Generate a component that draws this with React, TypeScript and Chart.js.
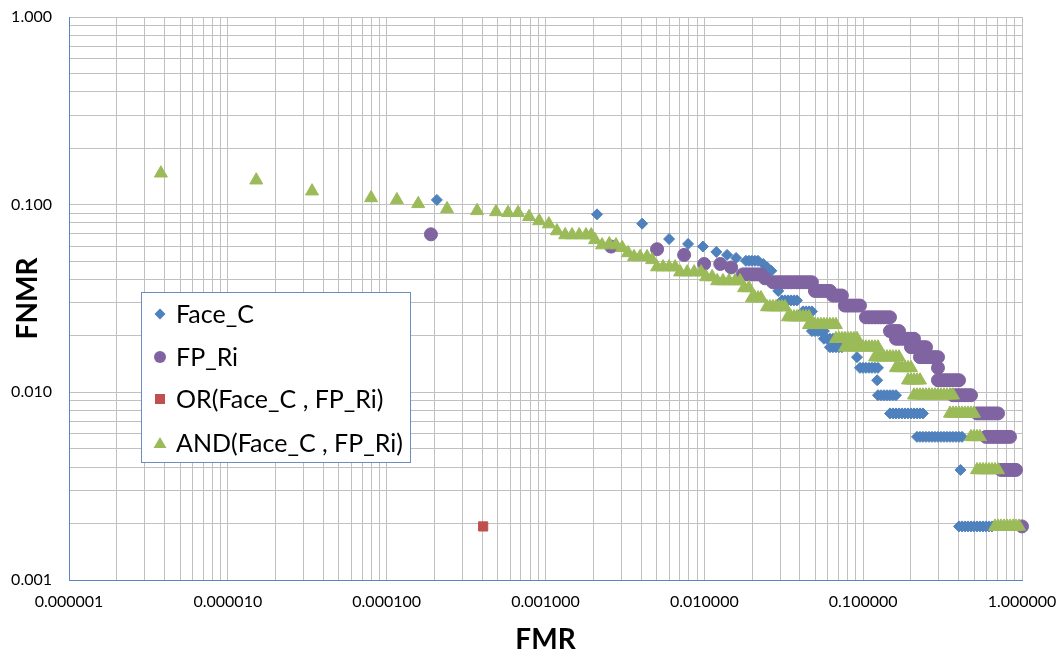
import React, { useEffect, useRef } from 'react';
import { Chart, registerables } from 'chart.js';

Chart.register(...registerables);

const FONT = 'Lato, "Open Sans", "DejaVu Sans", sans-serif';

// ---- axes ----
const xDecades = [1e-6, 1e-5, 1e-4, 1e-3, 1e-2, 1e-1, 1];
const xTickLabels = ['0.000001', '0.000010', '0.000100', '0.001000', '0.010000', '0.100000', '1.000000'];
const yDecades = [0.001, 0.01, 0.1, 1];
const yTickLabels = ['0.001', '0.010', '0.100', '1.000'];
const minorSteps = [1, 2, 3, 4, 5, 6, 7, 8, 9];
const xTitle = 'FMR';
const yTitle = 'FNMR';

// ---- series ----
const seriesNames = ['Face_C', 'FP_Ri', 'OR(Face_C , FP_Ri)', 'AND(Face_C , FP_Ri)'];
const seriesColors = ['#4F81BD', '#8064A2', '#C0504D', '#9BBB59'];

const faceC: number[][] = [
  [2.07e-4, 0.106], [2.11e-3, 0.0888], [4.06e-3, 0.0792], [6.0e-3, 0.0656], [7.9e-3, 0.0618],
  [9.8e-3, 0.0598], [1.19e-2, 0.056], [1.39e-2, 0.054], [1.585e-2, 0.052],
  [1.828e-2, 0.0502], [1.91e-2, 0.0502], [1.994e-2, 0.0502], [2.083e-2, 0.0502], [2.176e-2, 0.0502],
  [2.35e-2, 0.0483], [2.49e-2, 0.0463], [2.64e-2, 0.0444], [2.92e-2, 0.0347],
  [3.081e-2, 0.0309], [3.218e-2, 0.0309], [3.36e-2, 0.0309], [3.51e-2, 0.0309], [3.666e-2, 0.0309], [3.828e-2, 0.0309],
  [4.176e-2, 0.027], [4.362e-2, 0.027], [4.556e-2, 0.027], [4.758e-2, 0.027],
  [4.758e-2, 0.0212], [4.969e-2, 0.0212], [5.19e-2, 0.0212], [5.421e-2, 0.0212], [5.662e-2, 0.0212],
  [5.662e-2, 0.0193], [5.913e-2, 0.0193], [6.176e-2, 0.0193], [6.45e-2, 0.0193], [6.737e-2, 0.0193],
  [6.176e-2, 0.0174], [6.45e-2, 0.0174], [6.737e-2, 0.0174], [7.036e-2, 0.0174], [7.349e-2, 0.0174],
  [9.141e-2, 0.0154],
  [9.546e-2, 0.0135], [9.97e-2, 0.0135], [0.1041, 0.0135], [0.1088, 0.0135], [0.1136, 0.0135],
  [0.1187, 0.0135], [0.1239, 0.0135],
  [0.1225, 0.0116],
  [0.1239, 0.00965], [0.1294, 0.00965], [0.1352, 0.00965], [0.1412, 0.00965], [0.1475, 0.00965],
  [0.154, 0.00965], [0.1609, 0.00965],
  [0.1475, 0.00772], [0.154, 0.00772], [0.1609, 0.00772], [0.168, 0.00772], [0.1755, 0.00772],
  [0.1833, 0.00772], [0.1914, 0.00772], [0.2, 0.00772], [0.2089, 0.00772], [0.2182, 0.00772],
  [0.2279, 0.00772], [0.2379, 0.00772],
  [0.2182, 0.00579], [0.2279, 0.00579], [0.2379, 0.00579], [0.2485, 0.00579], [0.2597, 0.00579],
  [0.2712, 0.00579], [0.2833, 0.00579], [0.2958, 0.00579], [0.309, 0.00579], [0.3227, 0.00579],
  [0.3371, 0.00579], [0.3521, 0.00579], [0.3677, 0.00579], [0.3841, 0.00579], [0.4012, 0.00579],
  [0.419, 0.00579],
  [0.41, 0.00386],
  [0.4012, 0.00193], [0.419, 0.00193], [0.4376, 0.00193], [0.457, 0.00193], [0.4773, 0.00193],
  [0.4985, 0.00193], [0.5207, 0.00193], [0.5438, 0.00193], [0.568, 0.00193], [0.5932, 0.00193],
  [0.6196, 0.00193], [0.6471, 0.00193],
];

const fpRi: number[][] = [
  [1.9e-4, 0.0695], [2.59e-3, 0.0598], [5.04e-3, 0.0579], [7.46e-3, 0.054], [9.97e-3, 0.0483],
  [1.26e-2, 0.0483], [1.476e-2, 0.0463],
  [1.75e-2, 0.0425], [1.828e-2, 0.0425], [1.91e-2, 0.0425], [1.994e-2, 0.0425], [2.083e-2, 0.0425],
  [2.176e-2, 0.0425], [2.272e-2, 0.0425],
  [2.41e-2, 0.0405], [2.704e-2, 0.0386],
  [2.824e-2, 0.0386], [2.95e-2, 0.0386], [3.081e-2, 0.0386], [3.218e-2, 0.0386], [3.36e-2, 0.0386],
  [3.51e-2, 0.0386], [3.666e-2, 0.0386], [3.828e-2, 0.0386], [3.999e-2, 0.0386], [4.176e-2, 0.0386],
  [4.362e-2, 0.0386], [4.556e-2, 0.0386], [4.758e-2, 0.0386],
  [4.969e-2, 0.0347], [5.19e-2, 0.0347], [5.421e-2, 0.0347], [5.662e-2, 0.0347], [5.913e-2, 0.0347],
  [6.176e-2, 0.0347],
  [6.45e-2, 0.0328], [6.737e-2, 0.0328], [7.036e-2, 0.0328], [7.349e-2, 0.0328],
  [7.675e-2, 0.029], [8.016e-2, 0.029], [8.372e-2, 0.029], [8.745e-2, 0.029], [9.141e-2, 0.029],
  [9.546e-2, 0.029],
  [0.1041, 0.0251], [0.1088, 0.0251], [0.1136, 0.0251], [0.1187, 0.0251], [0.1239, 0.0251],
  [0.1294, 0.0251], [0.1352, 0.0251], [0.1412, 0.0251], [0.1475, 0.0251],
  [0.1475, 0.0212], [0.154, 0.0212], [0.1609, 0.0212], [0.168, 0.0212],
  [0.1609, 0.0193], [0.168, 0.0193], [0.1755, 0.0193], [0.1833, 0.0193], [0.1914, 0.0193],
  [0.2, 0.0193], [0.2089, 0.0193],
  [0.2, 0.0174], [0.2089, 0.0174], [0.2182, 0.0174], [0.2279, 0.0174], [0.2379, 0.0174], [0.2485, 0.0174],
  [0.2279, 0.0154], [0.2379, 0.0154], [0.2485, 0.0154], [0.2597, 0.0154], [0.2712, 0.0154],
  [0.2833, 0.0154], [0.2958, 0.0154],
  [0.2958, 0.0135],
  [0.2958, 0.0116], [0.309, 0.0116], [0.3227, 0.0116], [0.3371, 0.0116], [0.3521, 0.0116],
  [0.3677, 0.0116], [0.3841, 0.0116], [0.4012, 0.0116],
  [0.3677, 0.00965], [0.3841, 0.00965], [0.4012, 0.00965], [0.419, 0.00965], [0.4376, 0.00965],
  [0.457, 0.00965], [0.4773, 0.00965],
  [0.5207, 0.00772], [0.5438, 0.00772], [0.568, 0.00772], [0.5932, 0.00772], [0.6196, 0.00772],
  [0.6471, 0.00772], [0.6761, 0.00772], [0.7062, 0.00772],
  [0.5932, 0.00579], [0.6196, 0.00579], [0.6471, 0.00579], [0.6761, 0.00579], [0.7062, 0.00579],
  [0.7375, 0.00579], [0.7702, 0.00579], [0.8043, 0.00579], [0.8404, 0.00579],
  [0.7375, 0.00386], [0.7702, 0.00386], [0.8043, 0.00386], [0.8404, 0.00386], [0.8777, 0.00386],
  [0.9167, 0.00386],
  [1.0, 0.00193],
];

const orFused: number[][] = [
  [4.05e-4, 0.00193],
];

const andFused: number[][] = [
  [3.79e-6, 0.147], [1.51e-5, 0.135], [3.39e-5, 0.118], [7.98e-5, 0.1086], [1.16e-4, 0.106],
  [1.58e-4, 0.101], [2.4e-4, 0.0949], [3.71e-4, 0.0927], [4.88e-4, 0.0915], [5.81e-4, 0.0905],
  [6.72e-4, 0.0905], [7.88e-4, 0.0862], [9.12e-4, 0.0819], [1.05e-3, 0.0788], [1.18e-3, 0.0724],
  [1.33e-3, 0.0689], [1.47e-3, 0.0689], [1.63e-3, 0.0689], [1.8e-3, 0.0689], [1.94e-3, 0.0689],
  [2.05e-3, 0.0649], [2.27e-3, 0.0609], [2.52e-3, 0.0617], [2.78e-3, 0.0609], [3.04e-3, 0.0589],
  [3.31e-3, 0.0553], [3.61e-3, 0.0527], [3.94e-3, 0.0527], [4.36e-3, 0.0527], [4.69e-3, 0.0508],
  [5.04e-3, 0.0465], [5.5e-3, 0.0465], [6.0e-3, 0.0465], [6.55e-3, 0.0465],
  [7.04e-3, 0.0437], [7.8e-3, 0.0437], [8.63e-3, 0.0437], [9.55e-3, 0.0437],
  [1.026e-2, 0.0412], [1.12e-2, 0.0412],
  [1.205e-2, 0.0392], [1.31e-2, 0.0392], [1.43e-2, 0.0392], [1.56e-2, 0.0392], [1.68e-2, 0.0392],
  [1.78e-2, 0.036], [1.91e-2, 0.036],
  [1.994e-2, 0.0318], [2.083e-2, 0.0318], [2.176e-2, 0.0318], [2.272e-2, 0.0318],
  [2.479e-2, 0.0285], [2.589e-2, 0.0285], [2.704e-2, 0.0285], [2.824e-2, 0.0285], [2.95e-2, 0.0285],
  [3.081e-2, 0.0285], [3.218e-2, 0.0285],
  [3.36e-2, 0.0252], [3.51e-2, 0.0252], [3.666e-2, 0.0252], [3.828e-2, 0.0252], [3.999e-2, 0.0252],
  [4.176e-2, 0.0252], [4.362e-2, 0.0252], [4.556e-2, 0.0252],
  [4.556e-2, 0.0229], [4.758e-2, 0.0229], [4.969e-2, 0.0229], [5.19e-2, 0.0229], [5.421e-2, 0.0229],
  [5.662e-2, 0.0229], [5.913e-2, 0.0229], [6.176e-2, 0.0229], [6.45e-2, 0.0229], [6.737e-2, 0.0229],
  [6.737e-2, 0.0193], [7.036e-2, 0.0193], [7.349e-2, 0.0193], [7.675e-2, 0.0193], [8.016e-2, 0.0193],
  [8.372e-2, 0.0193], [8.745e-2, 0.0193], [9.141e-2, 0.0193],
  [7.675e-2, 0.0174], [8.016e-2, 0.0174], [8.372e-2, 0.0174], [8.745e-2, 0.0174], [9.141e-2, 0.0174],
  [9.546e-2, 0.0174], [9.97e-2, 0.0174], [0.1041, 0.0174], [0.1088, 0.0174], [0.1136, 0.0174],
  [0.1187, 0.0174], [0.1239, 0.0174],
  [0.1187, 0.0154], [0.1239, 0.0154], [0.1294, 0.0154], [0.1352, 0.0154], [0.1412, 0.0154],
  [0.1475, 0.0154], [0.154, 0.0154], [0.1609, 0.0154], [0.168, 0.0154],
  [0.1609, 0.0135], [0.168, 0.0135], [0.1755, 0.0135], [0.1833, 0.0135], [0.1914, 0.0135], [0.2, 0.0135],
  [0.1914, 0.0116], [0.2, 0.0116], [0.2089, 0.0116], [0.2182, 0.0116], [0.2279, 0.0116],
  [0.2089, 0.00965], [0.2182, 0.00965], [0.2279, 0.00965], [0.2379, 0.00965], [0.2485, 0.00965],
  [0.2597, 0.00965], [0.2712, 0.00965], [0.2833, 0.00965], [0.2958, 0.00965], [0.309, 0.00965],
  [0.3227, 0.00965], [0.3371, 0.00965], [0.3521, 0.00965], [0.3677, 0.00965],
  [0.3521, 0.00772], [0.3677, 0.00772], [0.3841, 0.00772], [0.4012, 0.00772], [0.419, 0.00772],
  [0.4376, 0.00772], [0.457, 0.00772], [0.4773, 0.00772], [0.4985, 0.00772],
  [0.4773, 0.00579], [0.4985, 0.00579], [0.5207, 0.00579], [0.5438, 0.00579],
  [0.5207, 0.00386], [0.5438, 0.00386], [0.568, 0.00386], [0.5932, 0.00386], [0.6196, 0.00386],
  [0.6471, 0.00386], [0.6761, 0.00386], [0.7062, 0.00386],
  [0.6761, 0.00193], [0.7062, 0.00193], [0.7375, 0.00193], [0.7702, 0.00193], [0.8043, 0.00193],
  [0.8404, 0.00193], [0.8777, 0.00193], [0.9167, 0.00193], [0.9574, 0.00193],
];

const seriesData = [faceC, fpRi, orFused, andFused];
const seriesStyles: any[] = ['rectRot', 'circle', 'rect', 'triangle'];
const seriesRadius = [5.5, 6.5, 6.5, 7.5];
const seriesOrder = [3, 2, 1, 0];

function logTicks(decades: number[]) {
  const out: { value: number }[] = [];
  for (let i = 0; i < decades.length - 1; i++) {
    for (const m of minorSteps) out.push({ value: m * decades[i] });
  }
  out.push({ value: decades[decades.length - 1] });
  return out;
}

function decadeLabel(value: number, decades: number[], labels: string[]) {
  const i = decades.findIndex((d) => Math.abs(Math.log10(d) - Math.log10(value)) < 1e-6);
  return i >= 0 ? labels[i] : '';
}

function drawMarker(ctx: CanvasRenderingContext2D, style: string, x: number, y: number, color: string) {
  ctx.fillStyle = color;
  ctx.beginPath();
  if (style === 'rectRot') {
    const r = 5.5;
    ctx.moveTo(x - r, y); ctx.lineTo(x, y - r); ctx.lineTo(x + r, y); ctx.lineTo(x, y + r);
  } else if (style === 'circle') {
    ctx.arc(x, y, 6, 0, Math.PI * 2);
  } else if (style === 'rect') {
    ctx.rect(x - 5, y - 5, 10, 10);
  } else {
    ctx.moveTo(x, y - 6); ctx.lineTo(x + 6.5, y + 5); ctx.lineTo(x - 6.5, y + 5);
  }
  ctx.closePath();
  ctx.fill();
}

const boxLegend = {
  id: 'boxLegend',
  afterDraw(chart: any) {
    const ctx: CanvasRenderingContext2D = chart.ctx;
    ctx.save();
    const bx = 141, by = 292, bw = 269, bh = 170;
    ctx.fillStyle = '#ffffff';
    ctx.fillRect(bx, by, bw, bh);
    ctx.strokeStyle = '#6F8CBF';
    ctx.lineWidth = 1;
    ctx.strokeRect(bx + 0.5, by + 0.5, bw, bh);
    const rows = [314, 357, 399, 443];
    ctx.font = `25px ${FONT}`;
    ctx.textBaseline = 'middle';
    ctx.textAlign = 'left';
    seriesNames.forEach((name, i) => {
      drawMarker(ctx, seriesStyles[i], 160, rows[i], seriesColors[i]);
      ctx.fillStyle = '#000000';
      ctx.fillText(name, 176, rows[i] + 1);
    });
    ctx.restore();
  },
};

const whiteBg = {
  id: 'whiteBg',
  beforeDraw(chart: any) {
    const ctx = chart.ctx;
    ctx.save();
    ctx.fillStyle = '#ffffff';
    ctx.fillRect(0, 0, chart.width, chart.height);
    ctx.restore();
  },
};

export default function App() {
  const canvasRef = useRef<HTMLCanvasElement | null>(null);

  useEffect(() => {
    document.body.style.margin = '0';
    const canvas = canvasRef.current;
    if (!canvas) return;
    const chart = new Chart(canvas, {
      type: 'scatter',
      data: {
        datasets: seriesNames.map((name, i) => ({
          label: name,
          data: seriesData[i].map(([x, y]) => ({ x, y })),
          pointStyle: seriesStyles[i],
          pointRadius: seriesRadius[i],
          pointHoverRadius: seriesRadius[i],
          backgroundColor: seriesColors[i],
          borderColor: seriesColors[i],
          borderWidth: 1,
          showLine: false,
          order: seriesOrder[i],
          clip: false as any,
        })),
      },
      options: {
        responsive: false,
        animation: false,
        events: [],
        layout: { padding: 0 },
        plugins: {
          legend: { display: false },
          tooltip: { enabled: false },
        },
        scales: {
          x: {
            type: 'logarithmic',
            min: xDecades[0],
            max: xDecades[xDecades.length - 1],
            afterBuildTicks: (scale: any) => { scale.ticks = logTicks(xDecades); },
            afterFit: (scale: any) => {
              scale.height = 77;
              scale.paddingLeft = 0;
              scale.paddingRight = 41;
            },
            ticks: {
              autoSkip: false,
              maxRotation: 0,
              minRotation: 0,
              padding: 12,
              color: '#000000',
              font: { family: FONT, size: 16 },
              callback: (v: any) => decadeLabel(Number(v), xDecades, xTickLabels),
            },
            grid: { color: '#C0C0C0', lineWidth: 1, drawTicks: false },
            border: { color: '#5A84C2', width: 1 },
            title: {
              display: true,
              text: xTitle,
              color: '#000000',
              font: { family: FONT, size: 28, weight: 'bold', lineHeight: 1 },
              padding: { top: 0, bottom: 3 },
            },
          },
          y: {
            type: 'logarithmic',
            min: yDecades[0],
            max: yDecades[yDecades.length - 1],
            afterBuildTicks: (scale: any) => { scale.ticks = logTicks(yDecades); },
            afterFit: (scale: any) => {
              scale.width = 69;
              scale.paddingTop = 17;
              scale.paddingBottom = 0;
            },
            ticks: {
              autoSkip: false,
              padding: 17,
              color: '#000000',
              font: { family: FONT, size: 16 },
              callback: (v: any) => decadeLabel(Number(v), yDecades, yTickLabels),
            },
            grid: { color: '#C0C0C0', lineWidth: 1, drawTicks: false },
            border: { color: '#5A84C2', width: 1 },
            title: {
              display: true,
              text: yTitle,
              color: '#000000',
              font: { family: FONT, size: 28, weight: 'bold', lineHeight: 1 },
              padding: { top: 14, bottom: 0 },
            },
          },
        },
      } as any,
      plugins: [whiteBg, boxLegend],
    });
    return () => chart.destroy();
  }, []);

  return (
    <div style={{ width: 1063, height: 657, position: 'relative' }}>
      <canvas ref={canvasRef} width={1063} height={657} style={{ display: 'block', width: 1063, height: 657 }} />
    </div>
  );
}
